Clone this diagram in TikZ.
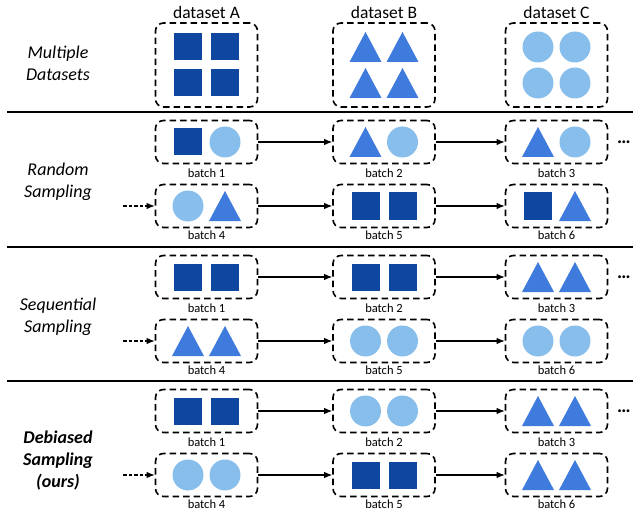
\documentclass[tikz,border=0pt]{standalone}
\usepackage{fontspec}
\setmainfont{Carlito}
\usepackage{tikz}
\usetikzlibrary{arrows.meta}

\definecolor{dkblue}{RGB}{15,70,160}
\definecolor{mdblue}{RGB}{63,123,220}
\definecolor{ltblue}{RGB}{136,190,236}

\tikzset{
  box/.style={draw,line width=1.6pt,dash pattern=on 6.5pt off 4pt,rounded corners=8pt,
    minimum width=102pt,minimum height=43pt,inner sep=0pt},
  dsbox/.style={box,minimum height=84pt},
  hdr/.style={font=\fontsize{17.5}{21}\selectfont},
  side/.style={font=\fontsize{18}{22}\selectfont\itshape,align=center},
  lbl/.style={font=\fontsize{12.5}{15}\selectfont,inner sep=1pt},
  flow/.style={-{Latex[length=8pt,width=6.5pt]},line width=1.2pt},
  sq/.pic={\fill[dkblue] (-14,-13.5) rectangle (14,13.5);},
  ci/.pic={\fill[ltblue] (0,0) circle (15.5pt);},
  tri/.pic={\fill[mdblue] (-16,15) -- (16,15) -- (0,-15) -- cycle;},
}
\newcommand\inbox[3]{\pic at ([xshift=-18.5pt]#1.center) {#2}; \pic at ([xshift=18.5pt]#1.center) {#3};}
\newcommand\four[2]{\foreach \dx/\dy in {-1/-1,1/-1,-1/1,1/1} {\pic at ([shift={(18.5*\dx,18*\dy)}]#1.center) {#2};}}

\begin{document}
\begin{tikzpicture}[x=1pt,y=-1pt]
\useasboundingbox (0,0) rectangle (633,511);

% datasets
\node[hdr] (hA) at (206.5,12) {dataset A};
\node[hdr] (hB) at (384,12) {dataset B};
\node[hdr] (hC) at (556.5,12) {dataset C};
\node[dsbox] (dA) at (206.5,65) {};
\node[dsbox] (dB) at (384,65) {};
\node[dsbox] (dC) at (556.5,65) {};
\four{dA}{sq}
\four{dB}{tri}
\four{dC}{ci}

\node[side] (mult) at (58,63) {Multiple\\Datasets};
\node[side] (rand) at (58,182) {Random\\Sampling};
\node[side] (sequ) at (58,317) {Sequential\\Sampling};
\node[side,font=\fontsize{18}{22}\selectfont\bfseries\itshape] (deb) at (58,461) {Debiased\\Sampling\\(ours)};

\foreach \y in {112,247,381} \draw[line width=1.2pt] (7,\y) -- (633,\y);

% batches
\foreach \s/\y in {r/142,s/277,d/411}{
  \foreach \n/\x in {1/206.5,2/384,3/556.5}{
    \pgfmathtruncatemacro\m{\n+3}
    \node[box] (\s\n) at (\x,\y) {};
    \node[lbl] (\s\n l) at (\x,\y+31) {batch \n};
    \node[box] (\s\m) at (\x,\y+64) {};
    \node[lbl] (\s\m l) at (\x,\y+93.5) {batch \m};
  }
  \draw[flow] (\s1) -- (\s2);
  \draw[flow] (\s2) -- (\s3);
  \draw[flow] (\s4) -- (\s5);
  \draw[flow] (\s5) -- (\s6);
  \coordinate (\s in) at (123,\y+64);
  \draw[flow,dash pattern=on 3.5pt off 2pt] (\s in) -- (\s4);
  \node[hdr,font=\fontsize{19}{21}\selectfont\bfseries] (\s dots) at (624,\y) {\dots};
}

\inbox{r1}{sq}{ci}  \inbox{r2}{tri}{ci} \inbox{r3}{tri}{ci}
\inbox{r4}{ci}{tri} \inbox{r5}{sq}{sq}  \inbox{r6}{sq}{tri}
\inbox{s1}{sq}{sq}  \inbox{s2}{sq}{sq}  \inbox{s3}{tri}{tri}
\inbox{s4}{tri}{tri} \inbox{s5}{ci}{ci} \inbox{s6}{ci}{ci}
\inbox{d1}{sq}{sq}  \inbox{d2}{ci}{ci}  \inbox{d3}{tri}{tri}
\inbox{d4}{ci}{ci}  \inbox{d5}{sq}{sq}  \inbox{d6}{tri}{tri}
\end{tikzpicture}
\end{document}
